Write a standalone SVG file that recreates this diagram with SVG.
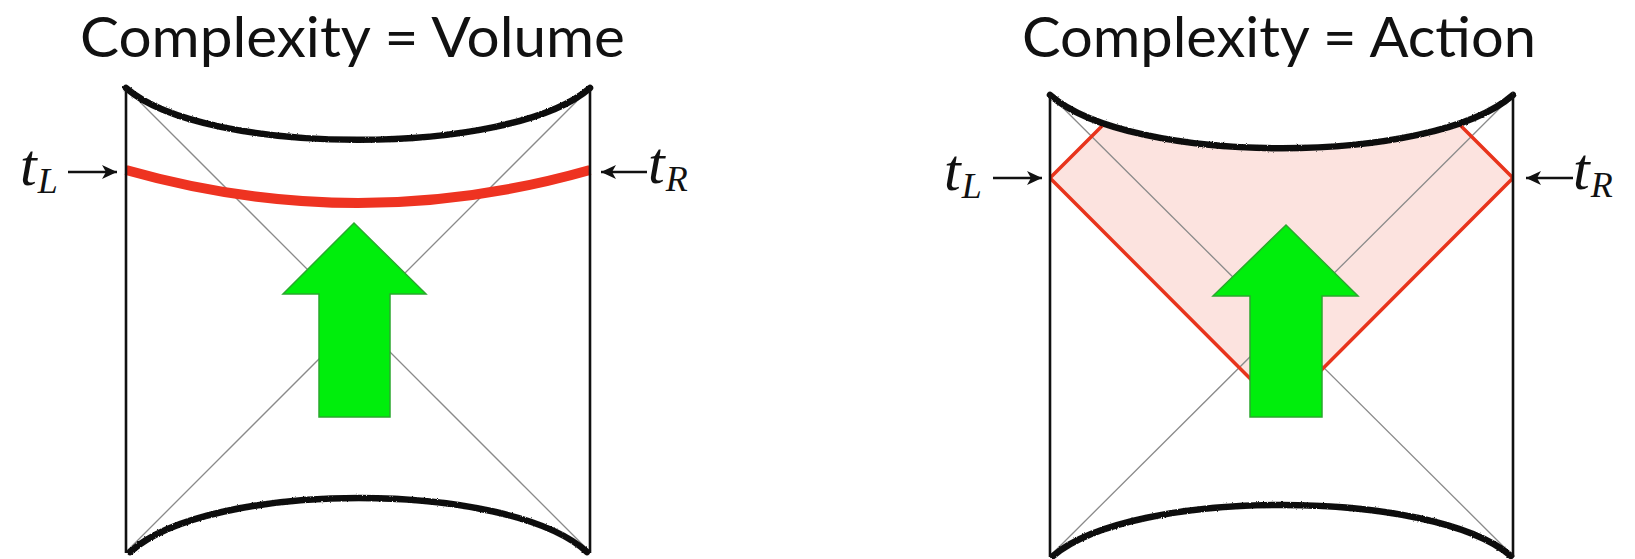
<svg xmlns="http://www.w3.org/2000/svg" width="1635" height="559" viewBox="0 0 1635 559">
  <style>
    .title { font-family: Lato, "Open Sans", "Liberation Sans", sans-serif; font-size: 56px; fill: #111; }
    .m { font-family: "Liberation Serif", serif; font-style: italic; font-size: 60px; fill: #111; }
    .sub { font-size: 36px; }
    .wall { stroke: #111; stroke-width: 2.6; fill: none; }
    .sing { stroke: #111; stroke-width: 6.5; fill: none; stroke-linecap: round; filter: url(#rough); }
    .diag { stroke: #8a8a8a; stroke-width: 1.3; fill: none; }
    .slice { stroke: #ee3321; stroke-width: 10; fill: none; }
    .wdw { stroke: #e8341c; stroke-width: 3.5; fill: none; stroke-linejoin: miter; }
    .wdwfill { fill: #fce3df; stroke: none; }
    .flow { fill: #00ee0c; stroke: #2aa82e; stroke-width: 1.5; }
    .lab { stroke: #111; stroke-width: 2.6; fill: none; }
  </style>
  <defs>
    <filter id="rough" x="-5%" y="-40%" width="110%" height="180%">
      <feTurbulence type="fractalNoise" baseFrequency="0.8" numOctaves="1" seed="4"/>
      <feDisplacementMap in="SourceGraphic" scale="2.5" xChannelSelector="R" yChannelSelector="G"/>
    </filter>
    <marker id="ah" markerUnits="userSpaceOnUse" markerWidth="16" markerHeight="14" refX="15" refY="7" orient="auto">
      <path d="M0,0 L15,7 L0,14 L4,7 Z" fill="#111"/>
    </marker>
    <clipPath id="belowTopR">
      <path d="M1050,95 C1131,166 1432,166 1513,95 L1513,560 L1050,560 Z"/>
    </clipPath>
  </defs>
  <rect width="1635" height="559" fill="#ffffff"/>

  <g id="panel-volume">
    <g id="title-volume">
      <text class="title" x="80" y="57" textLength="545" lengthAdjust="spacingAndGlyphs">Complexity = Volume</text>
    </g>
    <g id="penrose-volume">
      <line class="diag" x1="126" y1="88" x2="590" y2="552"/>
      <line class="diag" x1="590" y1="88" x2="126" y2="552"/>
      <path class="slice" d="M126,170 Q358,236 590,170"/>
      <path class="sing" d="M126,88 C205,157 511,157 590,88"/>
      <path class="sing" d="M130,552 C210,480 508,480 587,552"/>
      <line class="wall" x1="126" y1="87" x2="126" y2="553"/>
      <line class="wall" x1="590" y1="87" x2="590" y2="553"/>
    </g>
    <g id="arrow-volume">
      <polygon class="flow" points="354,223 426,294 390,294 390,417 319,417 319,294 283,294"/>
    </g>
    <g id="label-tL-volume">
      <text class="m" x="20" y="185">t<tspan class="sub" dx="1" dy="8">L</tspan></text>
    </g>
    <g id="label-tR-volume">
      <text class="m" x="648" y="183">t<tspan class="sub" dx="1" dy="8">R</tspan></text>
    </g>
  </g>

  <g id="panel-action">
    <g id="title-action">
      <text class="title" x="1022" y="57" textLength="514" lengthAdjust="spacingAndGlyphs">Complexity = Action</text>
    </g>
    <g id="penrose-action">
      <path class="wdwfill" clip-path="url(#belowTopR)" d="M1050,178 L1170,58 L1393,58 L1513,178 L1281.5,410 Z"/>
      <line class="diag" x1="1050" y1="95" x2="1513" y2="556"/>
      <line class="diag" x1="1513" y1="95" x2="1050" y2="556"/>
      <path class="wdw" clip-path="url(#belowTopR)" d="M1120,108 L1050,178 L1281.5,410 L1513,178 L1443,108"/>
      <path class="sing" d="M1050,95 C1131,166 1432,166 1513,95"/>
      <path class="sing" d="M1053,556 C1132,488 1432,488 1511,556"/>
      <line class="wall" x1="1050" y1="94" x2="1050" y2="557"/>
      <line class="wall" x1="1513" y1="94" x2="1513" y2="557"/>
    </g>
    <g id="arrow-action">
      <polygon class="flow" points="1286,225 1358,296 1322,296 1322,417 1250,417 1250,296 1213,296"/>
    </g>
    <g id="label-tL-action">
      <text class="m" x="944" y="190">t<tspan class="sub" dx="1" dy="8">L</tspan></text>
    </g>
    <g id="label-tR-action">
      <text class="m" x="1573" y="189">t<tspan class="sub" dx="1" dy="8">R</tspan></text>
    </g>
  </g>

  <g id="connectors">
    <line class="lab" x1="68" y1="172" x2="117" y2="172" marker-end="url(#ah)"/>
    <line class="lab" x1="647" y1="172" x2="601" y2="172" marker-end="url(#ah)"/>
    <line class="lab" x1="993" y1="178" x2="1042" y2="178" marker-end="url(#ah)"/>
    <line class="lab" x1="1573" y1="178" x2="1526" y2="178" marker-end="url(#ah)"/>
  </g>
</svg>
